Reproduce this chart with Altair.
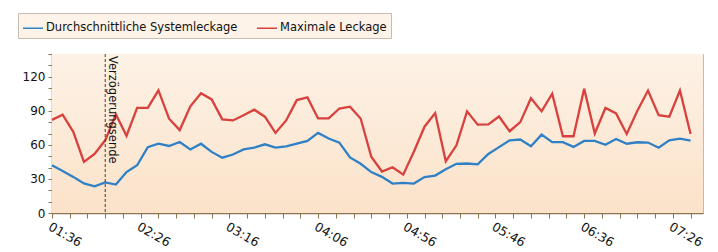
import altair as alt
import pandas as pd

# ---- data ----
start_minute = 96          # 01:36
step_minutes = 6           # one sample every 6 minutes
avg_leak = [42, 37, 31.8, 26, 23.5, 27, 25, 36, 42, 58,
            61, 59, 62.5, 56, 61, 53.8, 48.7, 51.5, 56, 57.5,
            60.5, 57.5, 58.7, 61, 63.5, 70.5, 65.6, 62, 48.9, 43.3,
            36, 31.8, 25.9, 26.5, 25.9, 31.6, 33, 38.5, 43.3, 43.6,
            42.8, 52, 58, 64, 64.7, 58.8, 69, 62.4, 62.4, 58.2,
            63.5, 63.5, 60, 65.2, 61, 62.3, 62, 57.5, 64, 65.4, 63.7]
max_leak = [82, 86.5, 71.5, 45, 52, 64, 87, 68, 92.5, 92.5,
            108, 83, 73, 94, 105.5, 100, 82.5, 81.5, 86, 91,
            84.8, 70.5, 81.5, 99.4, 101.8, 83.3, 83.3, 92, 93.6, 83.2,
            49.5, 36.5, 40.3, 33.8, 54, 76, 88, 45.5, 59.6, 89.5,
            77.8, 78, 85, 72, 80, 101, 89.5, 105, 67.6, 67.6,
            109.5, 70, 92.5, 87.7, 69.6, 90, 107.8, 86.2, 84.8, 107.8, 69.6]
series_names = ["Durchschnittliche Systemleckage", "Maximale Leckage"]
series_colors = ["#2f80c4", "#d8413e"]
marker_minute = [126]      # 02:06
marker_label = ["Verzögerungsende"]
x_domain = [96, 463]
y_domain = [0, 140]
x_tick_values = list(range(96, 460, 10))
y_tick_values = list(range(0, 141, 10))

minutes = [start_minute + step_minutes * i for i in range(len(avg_leak))]
df = pd.DataFrame({
    "minute": minutes * 2,
    "value": avg_leak + max_leak,
    "series": [series_names[0]] * len(avg_leak) + [series_names[1]] * len(max_leak),
})

W, H = 651, 159
FONT = "DejaVu Sans"
AXIS_COLOR = "#8a7550"

x_scale = alt.Scale(domain=x_domain, nice=False, zero=False)
y_scale = alt.Scale(domain=y_domain, nice=False)

x_axis = alt.Axis(
    values=x_tick_values,
    labelExpr="(datum.value - 96) % 50 === 0 ? timeFormat(datetime(2000, 0, 1, 0, datum.value), '%H:%M') : ''",
    labelAngle=30, labelAlign="left", labelBaseline="top",
    labelFont=FONT, labelFontSize=12.5, labelColor="#111", labelPadding=2,
    labelOverlap=False, labelFlush=False, labelBound=False,
    tickSize=5, tickColor=AXIS_COLOR, domainColor=AXIS_COLOR, domainWidth=1.5,
    grid=False, title=None,
)
y_axis = alt.Axis(
    values=y_tick_values,
    labelExpr="datum.value % 30 === 0 ? datum.label : ''",
    labelFont=FONT, labelFontSize=12, labelColor="#111", labelPadding=3,
    labelOverlap=False,
    tickSize=4, tickColor=AXIS_COLOR, domainColor=AXIS_COLOR, domainWidth=1.5,
    grid=True, gridColor="#e6cfb6", gridWidth=1.5,
    gridOpacity={"condition": {"test": "datum.value % 30 === 0 && datum.value > 0", "value": 1}, "value": 0},
    title=None,
)

background = alt.Chart(pd.DataFrame({"a": [0]})).mark_rect(
    color=alt.Gradient(
        gradient="linear", x1=0, y1=0, x2=0, y2=1,
        stops=[alt.GradientStop(color="#fdf2e6", offset=0),
               alt.GradientStop(color="#fbe2c9", offset=1)],
    )
).encode(x=alt.value(0), x2=alt.value(W), y=alt.value(0), y2=alt.value(H))

lines = alt.Chart(df).mark_line(strokeWidth=2.3).encode(
    x=alt.X("minute:Q", scale=x_scale, axis=x_axis),
    y=alt.Y("value:Q", scale=y_scale, axis=y_axis),
    color=alt.Color(
        "series:N",
        scale=alt.Scale(domain=series_names, range=series_colors),
        legend=alt.Legend(
            orient="none", legendX=-34, legendY=-41, direction="horizontal",
            title=None, fillColor="#fdf3e8", strokeColor="#c8bcb0", padding=4,
            symbolType="stroke", symbolSize=400, symbolStrokeWidth=1.5,
            labelFont=FONT, labelFontSize=11.5, labelColor="#111", labelLimit=400,
            columnPadding=16, labelOffset=2,
        ),
    ),
    order=alt.Order("minute:Q"),
)

marker_df = pd.DataFrame({"minute": marker_minute, "label": marker_label})
rule = alt.Chart(marker_df).mark_rule(
    strokeDash=[3, 2], color="#4a3b28", strokeWidth=1
).encode(x=alt.X("minute:Q", scale=x_scale, axis=x_axis))
label = alt.Chart(marker_df).mark_text(
    angle=90, align="left", baseline="bottom", font=FONT, fontSize=11.5, color="#111",
    xOffset=2,
).encode(x=alt.X("minute:Q", scale=x_scale, axis=x_axis), y=alt.value(2), text="label:N")

chart = alt.layer(background, lines, rule, label).properties(
    width=W, height=H,
    autosize=alt.AutoSizeParams(type="none"),
    padding={"left": 44, "top": 46, "right": 7, "bottom": 45},
    background="white",
).configure_view(stroke="#c9b8a2", strokeWidth=1)

chart.save("out.html", embed_options={"renderer": "svg", "actions": False})
